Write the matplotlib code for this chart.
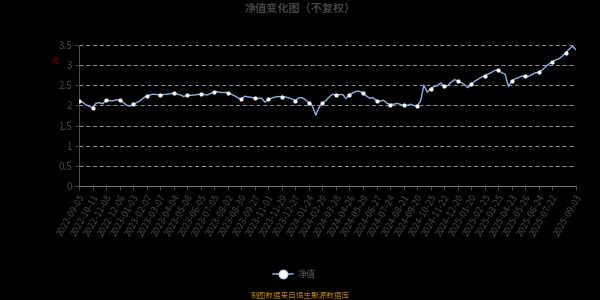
import matplotlib
matplotlib.use("Agg")
import matplotlib.pyplot as plt
from matplotlib.lines import Line2D

plt.rcParams['font.family'] = ['Noto Sans CJK SC', 'DejaVu Sans']

# tick labels (category axis, one label every 4 samples, last one at the end)
tick_labels = ['2022-09-05', '2022-10-11', '2022-11-08', '2022-12-06', '2023-01-03', '2023-02-07',
               '2023-03-07', '2023-04-04', '2023-05-08', '2023-06-05', '2023-07-05', '2023-08-02',
               '2023-08-30', '2023-09-27', '2023-11-01', '2023-11-29', '2023-12-27', '2024-01-24',
               '2024-02-29', '2024-03-28', '2024-04-26', '2024-05-29', '2024-06-27', '2024-07-24',
               '2024-08-21', '2024-09-20', '2024-10-25', '2024-11-22', '2024-12-20', '2025-01-20',
               '2025-02-25', '2025-03-25', '2025-04-23', '2025-05-26', '2025-06-24', '2025-07-22',
               '2025-09-03']
tick_pos = list(range(0, 141, 4)) + [147]

# net value (roughly one sample per week)
nav = [2.12, 2.08, 2.02, 1.98, 1.94, 2.05, 2.07, 2.04, 2.13, 2.12,
       2.11, 2.14, 2.14, 2.08, 2.01, 1.98, 2.03, 2.07, 2.11, 2.18,
       2.24, 2.26, 2.28, 2.27, 2.26, 2.27, 2.28, 2.29, 2.30, 2.28,
       2.26, 2.22, 2.26, 2.25, 2.26, 2.27, 2.28, 2.27, 2.26, 2.30,
       2.34, 2.34, 2.32, 2.32, 2.32, 2.28, 2.24, 2.19, 2.16, 2.23,
       2.21, 2.20, 2.18, 2.18, 2.18, 2.08, 2.15, 2.18, 2.21, 2.22,
       2.22, 2.21, 2.19, 2.16, 2.12, 2.19, 2.19, 2.14, 2.06, 1.99,
       1.76, 1.95, 2.06, 2.12, 2.21, 2.28, 2.25, 2.27, 2.27, 2.17,
       2.27, 2.31, 2.35, 2.35, 2.31, 2.23, 2.18, 2.19, 2.12, 2.10,
       2.13, 2.06, 2.02, 2.03, 2.05, 2.03, 2.00, 2.00, 2.03, 2.00,
       1.99, 2.10, 2.50, 2.33, 2.42, 2.47, 2.49, 2.56, 2.47, 2.49,
       2.57, 2.64, 2.61, 2.57, 2.52, 2.44, 2.52, 2.60, 2.65, 2.70,
       2.74, 2.78, 2.82, 2.87, 2.88, 2.81, 2.78, 2.47, 2.61, 2.66,
       2.69, 2.73, 2.73, 2.72, 2.77, 2.81, 2.82, 2.88, 2.96, 3.03,
       3.08, 3.13, 3.16, 3.23, 3.31, 3.40, 3.47, 3.38]

line_color = '#8cb0e4'
text_gray = '#474747'

fig = plt.figure(figsize=(6, 3), dpi=100, facecolor='black')
ax = fig.add_axes([0.1317, 0.38, 0.8283, 0.47], facecolor='black')

x = list(range(len(nav)))
ax.plot(x, nav, color=line_color, linewidth=1.0, marker='o', markersize=2.0,
        markerfacecolor='white', markeredgecolor='white', markevery=4, zorder=3)

ax.set_xlim(0, len(nav) - 1)
ax.set_ylim(0, 3.5)
ax.set_yticks([0, 0.5, 1, 1.5, 2, 2.5, 3, 3.5])
ax.set_yticklabels(['0', '0.5', '1', '1.5', '2', '2.5', '3', '3.5'])
ax.set_xticks(tick_pos)
ax.set_xticklabels(tick_labels, rotation=60, ha='right', rotation_mode='anchor')

ax.tick_params(axis='x', colors='#555555', labelsize=6.5, length=3, width=0.6, pad=2)
ax.tick_params(axis='y', colors='#555555', labelsize=7, length=3, width=0.6, pad=2)
for t in ax.get_xticklabels() + ax.get_yticklabels():
    t.set_color(text_gray)

ax.grid(axis='y', color='#9a9a9a', linestyle=(0, (4, 3)), linewidth=0.7)
ax.grid(axis='x', visible=False)
for side in ['top', 'right']:
    ax.spines[side].set_visible(False)
ax.spines['left'].set_color('#555555')
ax.spines['bottom'].set_color('#777777')
ax.spines['left'].set_linewidth(0.7)
ax.spines['bottom'].set_linewidth(0.7)

fig.text(0.5, 0.972, '净值变化图（不复权）', ha='center', va='center',
         color='#444444', fontsize=8, fontweight='bold')
fig.text(0.092, 0.795, '元', ha='center', va='center', color='#8b0000', fontsize=5.5)

handle = Line2D([], [], color=line_color, linewidth=1.1, marker='o', markersize=6,
                markerfacecolor='white', markeredgecolor='#cfe0ff')
fig.legend([handle], ['净值'], loc='center', bbox_to_anchor=(0.49, 0.085), frameon=False,
           fontsize=6.5, labelcolor='#555555', handlelength=2.2, handletextpad=0.5)

fig.text(0.5, 0.013, '制图数据来自恒生聚源数据库', ha='center', va='center',
         color='#b07d1a', fontsize=5.5)

fig.savefig('out.png', dpi=100, facecolor='black')
